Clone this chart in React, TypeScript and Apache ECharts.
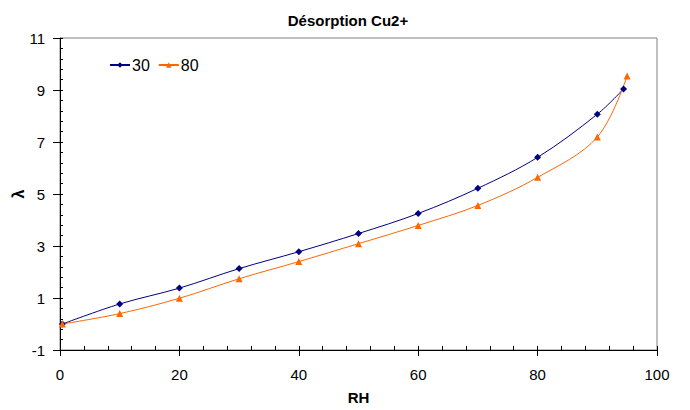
import React, { useEffect, useRef } from "react";
import * as echarts from "echarts";

const rh30 = [0.4, 10, 20, 30, 40, 50, 60, 70, 80, 90, 94.4];
const lambda30 = [0.0, 0.77, 1.38, 2.13, 2.78, 3.48, 4.25, 5.22, 6.41, 8.07, 9.04];
const rh80 = [0.4, 10, 20, 30, 40, 50, 60, 70, 80, 90, 95.0];
const lambda80 = [0.0, 0.4, 0.99, 1.74, 2.4, 3.09, 3.79, 4.56, 5.64, 7.19, 9.54];
const yTicks = [-1, 1, 3, 5, 7, 9, 11];
const yMinorTicks = Array.from({ length: 31 }, (_, i) => Math.round((-1 + i * 0.4) * 10) / 10);

const FONT = "'Liberation Sans', Arial, sans-serif";

export default function App() {
  const ref = useRef<HTMLDivElement>(null);
  useEffect(() => {
    if (!ref.current) return;
    const chart = echarts.init(ref.current, null, { renderer: "svg" });
    chart.setOption({
      animation: false,
      backgroundColor: "#ffffff",
      textStyle: { fontFamily: FONT },
      title: {
        text: "Désorption Cu2+",
        left: 343,
        textAlign: "center",
        top: 8,
        textStyle: { fontFamily: FONT, fontSize: 15, fontWeight: "bold", color: "#000" },
      },
      legend: {
        left: 104,
        top: 52,
        itemWidth: 20,
        itemHeight: 7,
        itemGap: 8,
        textStyle: { fontFamily: FONT, fontSize: 16, color: "#000", padding: [0, 0, 0, -3] },
        data: ["30", "80"],
      },
      grid: {
        left: 60,
        right: 33,
        top: 38,
        bottom: 60,
        containLabel: false,
        outerBoundsMode: "none",
        show: true,
        borderColor: "#808080",
        borderWidth: 1,
        backgroundColor: "transparent",
      },
      xAxis: [
        {
          type: "value",
          min: 0,
          max: 100,
          interval: 20,
          name: "RH",
          nameLocation: "middle",
          nameGap: 40,
          nameMoveOverlap: false,
          nameTextStyle: { fontFamily: FONT, fontSize: 15, fontWeight: "bold", color: "#000" },
          axisLine: { show: true, onZero: false, lineStyle: { color: "#000", width: 1 } },
          axisTick: { show: true, inside: false, length: 6, lineStyle: { color: "#000" } },
          axisLabel: { fontFamily: FONT, fontSize: 15, color: "#000", margin: 17 },
          splitLine: { show: false },
        },
        {
          type: "value",
          min: 0,
          max: 100,
          interval: 4,
          position: "bottom",
          axisLine: { show: false, onZero: false },
          axisTick: { show: true, inside: true, length: 4, lineStyle: { color: "#000" } },
          axisLabel: { show: false },
          splitLine: { show: false },
        },
      ],
      yAxis: [
        {
          type: "value",
          min: -1,
          max: 11,
          name: "λ",
          nameLocation: "middle",
          nameGap: 34,
          nameMoveOverlap: false,
          nameRotate: 90,
          nameTextStyle: { fontFamily: FONT, fontSize: 16, fontWeight: "bold", color: "#000" },
          axisLine: { show: true, onZero: false, lineStyle: { color: "#000", width: 1 } },
          axisTick: { show: true, inside: false, length: 7, customValues: yTicks, lineStyle: { color: "#000" } },
          axisLabel: { fontFamily: FONT, fontSize: 15, color: "#000", margin: 15, customValues: yTicks },
          splitLine: { show: false },
        },
        {
          type: "value",
          min: -1,
          max: 11,
          position: "left",
          axisLine: { show: false, onZero: false },
          axisTick: { show: true, inside: true, length: 3, customValues: yMinorTicks, lineStyle: { color: "#000" } },
          axisLabel: { show: false, customValues: yMinorTicks },
          splitLine: { show: false },
        },
      ],
      series: [
        {
          name: "30",
          type: "line",
          smooth: 0.35,
          data: rh30.map((x, i) => [x, lambda30[i]]),
          symbol: "diamond",
          symbolSize: 7,
          showAllSymbol: true,
          itemStyle: { color: "#000080" },
          lineStyle: { color: "#000080", width: 1 },
        },
        {
          name: "80",
          type: "line",
          smooth: 0.35,
          data: rh80.map((x, i) => [x, lambda80[i]]),
          symbol: "triangle",
          symbolSize: 7,
          showAllSymbol: true,
          itemStyle: { color: "#FF6600" },
          lineStyle: { color: "#FF6600", width: 1 },
        },
      ],
    });
    return () => chart.dispose();
  }, []);
  return <div ref={ref} style={{ width: 690, height: 410, position: "absolute", left: 0, top: 0 }} />;
}
